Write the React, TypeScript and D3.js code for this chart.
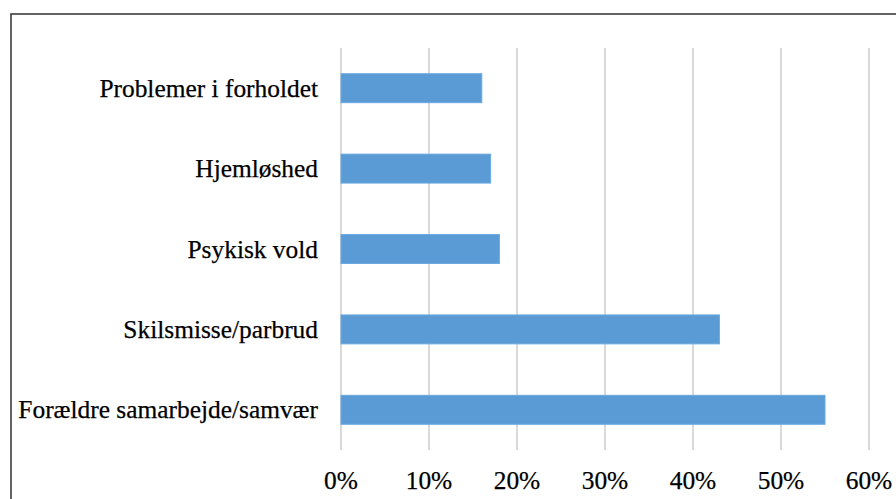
import React from "react";
import * as d3 from "d3";

const categories = [
  "Problemer i forholdet",
  "Hjemløshed",
  "Psykisk vold",
  "Skilsmisse/parbrud",
  "Forældre samarbejde/samvær",
];
const values = [0.16, 0.17, 0.18, 0.43, 0.55];
const ticks = [0, 0.1, 0.2, 0.3, 0.4, 0.5, 0.6];

const W = 896;
const H = 499;

export default function App() {
  const x = d3.scaleLinear().domain([0, 0.6]).range([341, 869]);
  const y = d3
    .scaleBand<string>()
    .domain(categories)
    .range([48, 450])
    .paddingInner(0.64)
    .paddingOuter(0.32);
  const fmt = d3.format(".0%");
  const font = "'Liberation Serif', 'Times New Roman', serif";
  return (
    <svg
      width={W}
      height={H}
      style={{ position: "absolute", left: 0, top: 0, background: "#fff" }}
    >
      <rect x={0} y={0} width={W} height={H} fill="#fff" />
      <rect
        x={11}
        y={14}
        width={W + 20}
        height={H + 20}
        fill="none"
        stroke="#3c3c3c"
        strokeWidth={1.6}
      />
      {ticks.map((t) => (
        <line
          key={"g" + t}
          x1={x(t)}
          x2={x(t)}
          y1={48}
          y2={450}
          stroke="#d9d9d9"
          strokeWidth={2}
        />
      ))}
      {categories.map((c, i) => (
        <rect
          key={c}
          x={x(0)}
          y={y(c)}
          width={x(values[i]) - x(0)}
          height={y.bandwidth()}
          fill="#5b9bd5"
          stroke="#6aa8e0"
          strokeWidth={1}
        />
      ))}
      {categories.map((c) => (
        <text
          key={"l" + c}
          x={318}
          y={(y(c) as number) + y.bandwidth() / 2 + 8.5}
          textAnchor="end"
          fontFamily={font}
          fontSize={25.4}
          fill="#000"
          stroke="#000"
          strokeWidth={0.25}
        >
          {c}
        </text>
      ))}
      {ticks.map((t) => (
        <text
          key={"t" + t}
          x={x(t)}
          y={489}
          textAnchor="middle"
          fontFamily={font}
          fontSize={25.4}
          fill="#000"
          stroke="#000"
          strokeWidth={0.25}
        >
          {fmt(t)}
        </text>
      ))}
    </svg>
  );
}
